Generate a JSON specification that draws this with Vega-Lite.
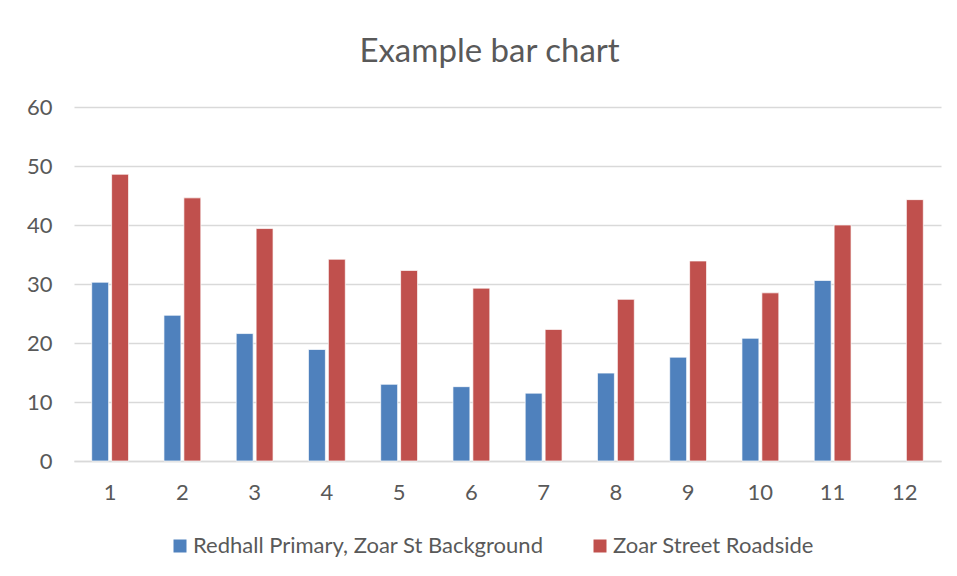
{
  "$schema": "https://vega.github.io/schema/vega-lite/v6.json",
  "width": 867,
  "height": 354,
  "autosize": {"type": "none"},
  "padding": {"left": 74, "top": 107, "right": 16, "bottom": 115},
  "background": "white",
  "title": {
    "text": "Example bar chart",
    "font": "Lato",
    "fontSize": 33,
    "fontWeight": "normal",
    "color": "#595959",
    "anchor": "middle",
    "frame": "group",
    "baseline": "alphabetic",
    "offset": 1,
    "dx": -18
  },
  "data": {
    "values": [
      {"month": 1, "site": "Redhall Primary, Zoar St Background", "value": 30.3},
      {"month": 1, "site": "Zoar Street Roadside", "value": 48.6},
      {"month": 2, "site": "Redhall Primary, Zoar St Background", "value": 24.7},
      {"month": 2, "site": "Zoar Street Roadside", "value": 44.6},
      {"month": 3, "site": "Redhall Primary, Zoar St Background", "value": 21.6},
      {"month": 3, "site": "Zoar Street Roadside", "value": 39.4},
      {"month": 4, "site": "Redhall Primary, Zoar St Background", "value": 18.9},
      {"month": 4, "site": "Zoar Street Roadside", "value": 34.2},
      {"month": 5, "site": "Redhall Primary, Zoar St Background", "value": 13.0},
      {"month": 5, "site": "Zoar Street Roadside", "value": 32.3},
      {"month": 6, "site": "Redhall Primary, Zoar St Background", "value": 12.6},
      {"month": 6, "site": "Zoar Street Roadside", "value": 29.3},
      {"month": 7, "site": "Redhall Primary, Zoar St Background", "value": 11.5},
      {"month": 7, "site": "Zoar Street Roadside", "value": 22.3},
      {"month": 8, "site": "Redhall Primary, Zoar St Background", "value": 14.9},
      {"month": 8, "site": "Zoar Street Roadside", "value": 27.4},
      {"month": 9, "site": "Redhall Primary, Zoar St Background", "value": 17.6},
      {"month": 9, "site": "Zoar Street Roadside", "value": 33.9},
      {"month": 10, "site": "Redhall Primary, Zoar St Background", "value": 20.8},
      {"month": 10, "site": "Zoar Street Roadside", "value": 28.5},
      {"month": 11, "site": "Redhall Primary, Zoar St Background", "value": 30.6},
      {"month": 11, "site": "Zoar Street Roadside", "value": 40.0},
      {"month": 12, "site": "Zoar Street Roadside", "value": 44.3}
    ]
  },
  "mark": {"type": "bar", "stroke": "white", "strokeWidth": 0.7},
  "encoding": {
    "x": {
      "field": "month",
      "type": "ordinal",
      "scale": {"paddingInner": 0.49, "paddingOuter": 0.245},
      "axis": {
        "title": null,
        "labelAngle": 0,
        "labelFont": "Lato",
        "labelFontSize": 22,
        "labelColor": "#595959",
        "labelPadding": 21,
        "ticks": false,
        "tickSize": 0,
        "domain": true,
        "domainColor": "#d9d9d9",
        "domainWidth": 1.3,
        "grid": false
      }
    },
    "xOffset": {
      "field": "site",
      "type": "nominal",
      "sort": ["Redhall Primary, Zoar St Background", "Zoar Street Roadside"],
      "scale": {"paddingInner": 0.15}
    },
    "y": {
      "field": "value",
      "type": "quantitative",
      "scale": {"domain": [0, 60], "nice": false},
      "axis": {
        "title": null,
        "values": [0, 10, 20, 30, 40, 50, 60],
        "labelFont": "Lato",
        "labelFontSize": 22,
        "labelColor": "#595959",
        "labelPadding": 22,
        "ticks": false,
        "tickSize": 0,
        "domain": false,
        "grid": true,
        "gridColor": "#d9d9d9",
        "gridWidth": 1.3
      }
    },
    "color": {
      "field": "site",
      "type": "nominal",
      "scale": {
        "domain": ["Redhall Primary, Zoar St Background", "Zoar Street Roadside"],
        "range": ["#4F81BD", "#C0504D"]
      },
      "legend": {
        "title": null,
        "orient": "none",
        "legendX": 95,
        "legendY": 428,
        "direction": "horizontal",
        "symbolType": "square",
        "symbolSize": 169,
        "symbolStrokeWidth": 0,
        "labelFont": "Lato",
        "labelFontSize": 22,
        "labelColor": "#595959",
        "labelOffset": 2,
        "labelLimit": 0,
        "columnPadding": 45
      }
    }
  },
  "config": {"view": {"stroke": null}}
}
